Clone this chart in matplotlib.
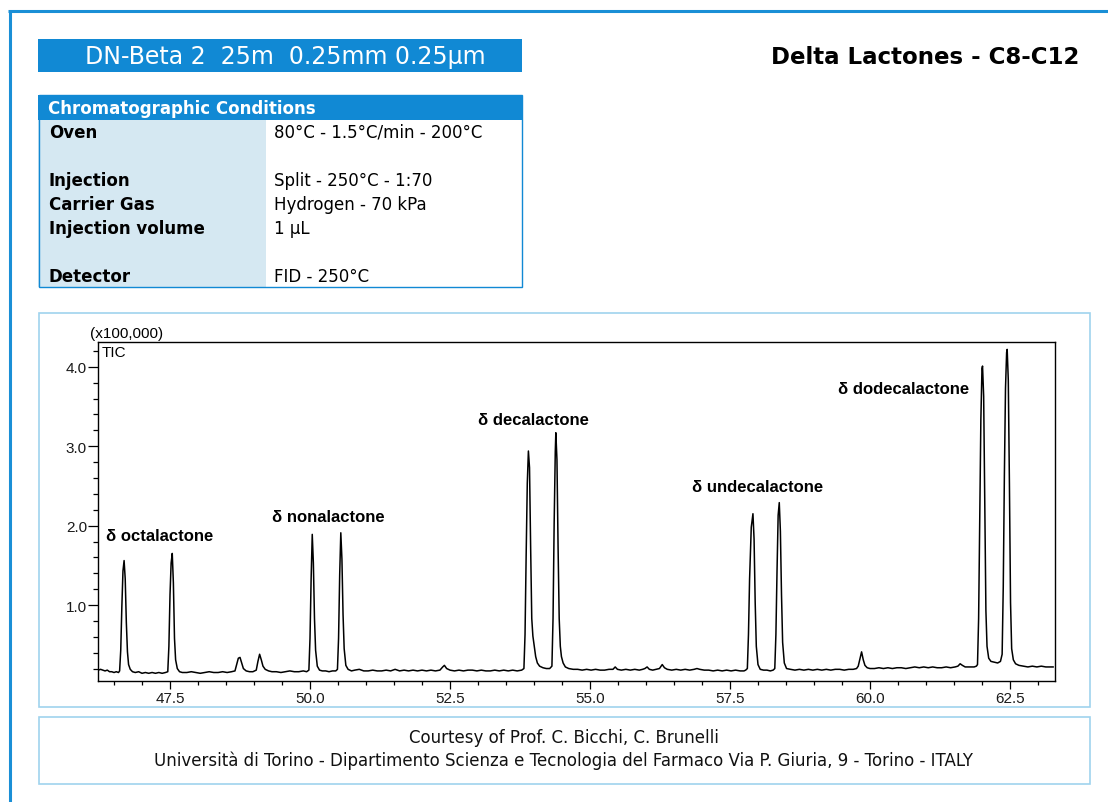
import matplotlib.pyplot as plt
from matplotlib.patches import Rectangle
from matplotlib.ticker import MultipleLocator

# chromatogram trace (retention time in min, signal x100,000)
trace_time = [
    46.22, 46.26, 46.30, 46.34, 46.38, 46.42, 46.46, 46.50, 46.54, 46.58,
    46.60, 46.62, 46.64, 46.66, 46.68, 46.70, 46.72, 46.74, 46.76, 46.79, 46.83,
    46.88, 46.94, 47.00, 47.06, 47.12, 47.18, 47.24, 47.30, 47.36, 47.42,
    47.46, 47.48, 47.50, 47.52, 47.54, 47.56, 47.58, 47.60, 47.63, 47.67,
    47.72, 47.80, 47.88, 47.96, 48.04, 48.12, 48.20, 48.28, 48.36, 48.44, 48.52, 48.60, 48.66,
    48.69, 48.72, 48.75, 48.78, 48.81, 48.86, 48.92, 48.98, 49.04, 49.07, 49.10, 49.13,
    49.16, 49.20, 49.26, 49.32, 49.40, 49.48, 49.56, 49.64, 49.72, 49.80, 49.88, 49.94,
    49.98, 50.00, 50.02, 50.04, 50.06, 50.08, 50.10, 50.13, 50.17, 50.22, 50.28, 50.34, 50.40, 50.46,
    50.49, 50.51, 50.53, 50.55, 50.57, 50.59, 50.61, 50.64, 50.68, 50.74,
    50.80, 50.88, 50.96, 51.04, 51.12, 51.20, 51.28, 51.36, 51.44, 51.52,
    51.60, 51.68, 51.76, 51.84, 51.92, 52.00, 52.08, 52.16, 52.24, 52.32,
    52.37, 52.40, 52.44, 52.50, 52.58, 52.66, 52.74, 52.82, 52.90, 52.98,
    53.06, 53.14, 53.22, 53.30, 53.38, 53.46, 53.54, 53.62, 53.70, 53.78,
    53.82, 53.84, 53.86, 53.88, 53.90, 53.92, 53.94, 53.96, 53.98, 54.00, 54.03, 54.06, 54.10, 54.16, 54.22, 54.28,
    54.32, 54.34, 54.36, 54.38, 54.39, 54.41, 54.43, 54.45, 54.47, 54.49, 54.52, 54.56, 54.62, 54.70, 54.78,
    54.86, 54.94, 55.02, 55.10, 55.18, 55.26, 55.34, 55.41, 55.45, 55.49, 55.56, 55.64, 55.72, 55.80, 55.88,
    55.94, 55.98, 56.02, 56.06, 56.12, 56.18, 56.24, 56.29, 56.33, 56.38, 56.46, 56.54, 56.62, 56.70, 56.78,
    56.86, 56.91, 56.96, 57.04, 57.12, 57.20, 57.28, 57.36, 57.44, 57.52, 57.60, 57.68, 57.75, 57.78,
    57.81, 57.83, 57.85, 57.88, 57.91, 57.93, 57.95, 57.97, 58.00, 58.04, 58.10, 58.16, 58.22, 58.27,
    58.30, 58.32, 58.34, 58.36, 58.38, 58.40, 58.42, 58.44, 58.47, 58.51, 58.58,
    58.66, 58.74, 58.82, 58.90, 58.98, 59.06, 59.14, 59.22, 59.30, 59.38, 59.46, 59.54, 59.62, 59.70, 59.76,
    59.79, 59.82, 59.85, 59.88, 59.91, 59.95, 60.00,
    60.08, 60.16, 60.24, 60.32, 60.40, 60.48, 60.56, 60.64, 60.72, 60.80,
    60.88, 60.96, 61.04, 61.12, 61.20, 61.28, 61.36, 61.44, 61.52,
    61.57, 61.61, 61.65, 61.70, 61.78, 61.86, 61.90,
    61.92, 61.94, 61.96, 61.98, 62.00, 62.01, 62.03, 62.05, 62.07, 62.09, 62.12, 62.16, 62.22, 62.28, 62.33,
    62.36, 62.38, 62.40, 62.42, 62.44, 62.45, 62.47, 62.49, 62.51, 62.53, 62.56, 62.60, 62.66, 62.74,
    62.82, 62.90, 62.98, 63.06, 63.14, 63.22, 63.27,
]
trace_signal = [
    0.18, 0.19, 0.18, 0.17, 0.18, 0.16, 0.16, 0.15, 0.16, 0.15,
    0.17, 0.43, 0.98, 1.43, 1.56, 1.33, 0.78, 0.41, 0.25, 0.19, 0.16,
    0.15, 0.16, 0.14, 0.15, 0.14, 0.15, 0.14, 0.15, 0.14, 0.15,
    0.16, 0.48, 1.13, 1.53, 1.65, 1.28, 0.58, 0.31, 0.20, 0.16,
    0.15, 0.15, 0.16, 0.15, 0.14, 0.15, 0.16, 0.15, 0.15, 0.16, 0.15, 0.16, 0.17,
    0.25, 0.33, 0.34, 0.27, 0.20, 0.17, 0.16, 0.16, 0.18, 0.29, 0.38, 0.31,
    0.23, 0.19, 0.17, 0.16, 0.16, 0.15, 0.16, 0.17, 0.16, 0.16, 0.17, 0.16,
    0.18, 0.58, 1.33, 1.89, 1.53, 0.83, 0.43, 0.23, 0.18, 0.17, 0.17, 0.16, 0.17, 0.17,
    0.19, 0.58, 1.38, 1.91, 1.58, 0.88, 0.45, 0.24, 0.19, 0.17,
    0.18, 0.19, 0.17, 0.17, 0.18, 0.17, 0.17, 0.18, 0.17, 0.19,
    0.17, 0.18, 0.17, 0.18, 0.17, 0.18, 0.17, 0.18, 0.17, 0.18,
    0.22, 0.24, 0.20, 0.18, 0.17, 0.18, 0.17, 0.18, 0.18, 0.17,
    0.18, 0.17, 0.17, 0.18, 0.17, 0.18, 0.17, 0.18, 0.17, 0.18,
    0.20, 0.63, 1.63, 2.53, 2.94, 2.73, 1.73, 0.83, 0.61, 0.51, 0.35, 0.27, 0.23, 0.21, 0.20, 0.20,
    0.23, 0.83, 2.03, 2.93, 3.17, 2.83, 1.73, 0.83, 0.48, 0.35, 0.27, 0.22, 0.20, 0.19, 0.19,
    0.18, 0.19, 0.18, 0.19, 0.18, 0.18, 0.19, 0.19, 0.22, 0.19, 0.18, 0.19, 0.18, 0.19, 0.18,
    0.19, 0.20, 0.22, 0.19, 0.18, 0.19, 0.20, 0.25, 0.21, 0.19, 0.18, 0.19, 0.18, 0.19, 0.18,
    0.19, 0.20, 0.19, 0.18, 0.18, 0.17, 0.18, 0.17, 0.18, 0.17, 0.18, 0.17, 0.17, 0.18,
    0.20, 0.63, 1.33, 1.98, 2.15, 1.83, 1.03, 0.48, 0.25, 0.19, 0.18, 0.18, 0.17, 0.18,
    0.20, 0.63, 1.43, 2.13, 2.29, 1.93, 1.13, 0.53, 0.27, 0.20, 0.19,
    0.18, 0.19, 0.18, 0.19, 0.18, 0.19, 0.18, 0.19, 0.18, 0.19, 0.19, 0.18, 0.19, 0.19, 0.20,
    0.23, 0.32, 0.41, 0.31, 0.24, 0.21, 0.20,
    0.20, 0.21, 0.20, 0.21, 0.20, 0.21, 0.21, 0.20, 0.21, 0.22,
    0.21, 0.22, 0.21, 0.22, 0.21, 0.21, 0.22, 0.21, 0.22,
    0.23, 0.26, 0.24, 0.22, 0.22, 0.22, 0.23,
    0.25, 0.83, 2.03, 3.33, 3.98, 4.01, 3.63, 2.23, 0.93, 0.48, 0.33, 0.29, 0.28, 0.27, 0.29,
    0.38, 1.23, 2.63, 3.73, 4.18, 4.22, 3.83, 2.53, 1.03, 0.45, 0.31, 0.26, 0.24, 0.23,
    0.22, 0.23, 0.22, 0.23, 0.22, 0.22, 0.22,
]

peak_names = ["\u03b4 octalactone", "\u03b4 nonalactone", "\u03b4 decalactone",
              "\u03b4 undecalactone", "\u03b4 dodecalactone"]
label_time = [46.36, 49.32, 53.00, 56.82, 59.43]
label_signal = [1.87, 2.11, 3.34, 2.49, 3.73]

x_ticks = [47.5, 50.0, 52.5, 55.0, 57.5, 60.0, 62.5]
y_ticks = [1.0, 2.0, 3.0, 4.0]

cond_names = ["Oven", "Injection", "Carrier Gas", "Injection volume", "Detector"]
cond_values = ["80\u00b0C - 1.5\u00b0C/min - 200\u00b0C", "Split - 250\u00b0C - 1:70",
               "Hydrogen - 70 kPa", "1 \u00b5L", "FID - 250\u00b0C"]
cond_rows = [132.5, 181, 205, 229, 277]

BLUE = '#1189d4'
LIGHT = '#d5e8f2'
PANEL = '#9fd3ee'
W, H = 1108, 803

fig = plt.figure(figsize=(W / 100, H / 100), dpi=100)

# background layer in pixel coordinates
bg = fig.add_axes([0, 0, 1, 1])
bg.set_xlim(0, W)
bg.set_ylim(H, 0)
bg.axis('off')

# outer frame (top + left)
bg.plot([9.5, 9.5], [11.5, H], color='#1a8fd6', lw=2.2, solid_capstyle='butt')
bg.plot([8, W], [11.5, 11.5], color='#1a8fd6', lw=2.2, solid_capstyle='butt')

# column title bar
bg.add_patch(Rectangle((38, 40), 484, 33, fc=BLUE, ec='none'))
bg.text(285, 57, "DN-Beta 2  25m  0.25mm 0.25\u03bcm", color='white', fontsize=17,
        ha='center', va='center', family='DejaVu Sans')
bg.text(1079, 58, "Delta Lactones - C8-C12", color='black', fontsize=16.5,
        fontweight='bold', ha='right', va='center', family='DejaVu Sans')

# conditions table
bg.add_patch(Rectangle((38, 120.5), 228, 167.5, fc=LIGHT, ec='none'))
bg.add_patch(Rectangle((38, 96), 484, 24.5, fc=BLUE, ec='none'))
bg.add_patch(Rectangle((38.5, 96), 483.5, 192, fc='none', ec=BLUE, lw=1.0))
bg.text(48, 109, "Chromatographic Conditions", color='white', fontsize=12,
        fontweight='bold', ha='left', va='center', family='DejaVu Sans')
for name, val, yy in zip(cond_names, cond_values, cond_rows):
    bg.text(49, yy, name, fontsize=12, fontweight='bold', ha='left', va='center',
            family='DejaVu Sans', color='black')
    bg.text(274, yy, val, fontsize=12, ha='left', va='center',
            family='DejaVu Sans', color='black')

# panels
bg.add_patch(Rectangle((38.5, 313.5), 1051.5, 394.5, fc='white', ec=PANEL, lw=1.2))
bg.add_patch(Rectangle((38.5, 717.5), 1051.5, 67.5, fc='white', ec=PANEL, lw=1.2))
bg.text(564, 738, "Courtesy of Prof. C. Bicchi, C. Brunelli", fontsize=12,
        ha='center', va='center', family='DejaVu Sans', color='#111111')
bg.text(564, 761, "Universit\u00e0 di Torino - Dipartimento Scienza e Tecnologia del "
        "Farmaco Via P. Giuria, 9 - Torino - ITALY", fontsize=12,
        ha='center', va='center', family='DejaVu Sans', color='#111111')

# chromatogram axes
ax = fig.add_axes([98 / W, (H - 682) / H, (1055 - 98) / W, (682 - 343) / H])
ax.plot(trace_time, trace_signal, color='black', lw=1.1)
ax.set_xlim(46.214, 63.304)
ax.set_ylim(0.043, 4.313)
ax.set_xticks(x_ticks)
ax.set_xticklabels(["%.1f" % v for v in x_ticks])
ax.set_yticks(y_ticks)
ax.set_yticklabels(["%.1f" % v for v in y_ticks])
ax.xaxis.set_minor_locator(MultipleLocator(0.5))
ax.yaxis.set_minor_locator(MultipleLocator(0.2))
ax.tick_params(axis='x', which='major', length=6, width=0.9, pad=1, labelsize=11,
               labelcolor='#1a1a1a')
ax.tick_params(axis='x', which='minor', length=3, width=0.9)
ax.tick_params(axis='y', which='major', length=7.5, width=0.9, pad=0.5, labelsize=11,
               labelcolor='#1a1a1a')
ax.tick_params(axis='y', which='minor', length=3.5, width=0.9)
for lab in ax.get_xticklabels() + ax.get_yticklabels():
    lab.set_family('Liberation Sans')
for sp in ax.spines.values():
    sp.set_linewidth(1.0)

for name, tx, sy in zip(peak_names, label_time, label_signal):
    ax.text(tx, sy, name, fontsize=12, fontweight='bold', ha='left', va='center',
            family='Liberation Sans')

ax.text(0.004, 0.99, "TIC", transform=ax.transAxes, fontsize=11, ha='left', va='top',
        family='Liberation Sans')
bg.text(90, 334, "(x100,000)", fontsize=11, ha='left', va='center',
        family='Liberation Sans')

fig.savefig('out.png', dpi=100)
